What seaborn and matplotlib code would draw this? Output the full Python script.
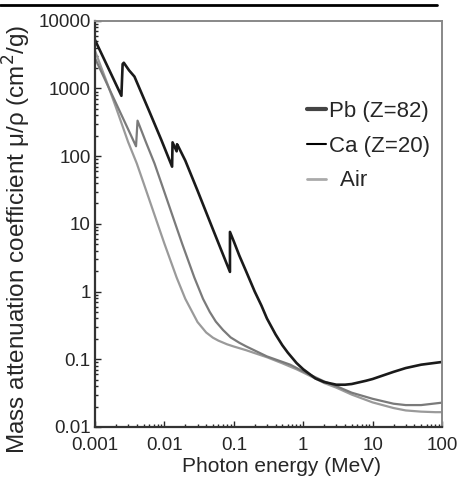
import numpy as np
import pandas as pd
import seaborn as sns
import matplotlib
matplotlib.use('Agg')
import matplotlib.pyplot as plt
from matplotlib.lines import Line2D
from matplotlib.ticker import LogLocator, FuncFormatter, NullFormatter

# values (MeV, cm2/g)
pb_energy = [0.001, 0.0017, 0.0024, 0.0025, 0.0026, 0.0031, 0.0037, 0.006, 0.009,
             0.0129, 0.0131, 0.0150, 0.0152, 0.0158, 0.02, 0.03, 0.05, 0.088, 0.088,
             0.1, 0.12, 0.15, 0.2, 0.25, 0.3, 0.4, 0.5, 0.6, 0.8, 1, 1.5, 2, 3, 4, 5,
             8, 10, 20, 30, 50, 100]
pb_mu = [5200, 1650, 780, 2300, 2400, 1850, 1500, 470, 175,
         70, 160, 118, 150, 140, 86, 31, 8.3, 1.95, 7.6,
         5.5, 3.4, 2.0, 1.0, 0.62, 0.40, 0.232, 0.161, 0.125, 0.088, 0.071, 0.052,
         0.046, 0.042, 0.042, 0.043, 0.048, 0.051, 0.065, 0.074, 0.083, 0.091]

ca_energy = [0.001, 0.002, 0.003, 0.0039, 0.0041, 0.0054, 0.0072, 0.009, 0.0108,
             0.0144, 0.018, 0.027, 0.036, 0.045, 0.055, 0.07, 0.09, 0.12, 0.15, 0.3,
             0.65, 1, 2, 3, 5, 10, 20, 30, 50, 100]
ca_mu = [2800, 610, 250, 140, 335, 162, 78, 40.3, 23.4,
         9.9, 5.1, 1.61, 0.78, 0.50, 0.36, 0.27, 0.21, 0.175, 0.155, 0.11,
         0.083, 0.066, 0.047, 0.040, 0.032, 0.026, 0.022, 0.021, 0.021, 0.0228]

air_energy = [0.001, 0.0015, 0.002, 0.003, 0.004, 0.005, 0.006, 0.008, 0.01, 0.015,
              0.02, 0.03, 0.04, 0.05, 0.06, 0.08, 0.1, 0.15, 0.2, 0.3, 0.5, 0.8, 1,
              1.5, 2, 3, 5, 10, 20, 30, 50, 80, 100]
air_mu = [3606, 1191, 528, 162, 78, 40.3, 23.4, 9.9, 5.1, 1.61,
          0.78, 0.354, 0.248, 0.208, 0.188, 0.166, 0.154, 0.136, 0.123, 0.107, 0.087,
          0.071, 0.0636, 0.0517, 0.0445, 0.038, 0.030, 0.023, 0.019, 0.0175, 0.0168,
          0.0165, 0.0165]

materials = ['Pb (Z=82)', 'Ca (Z=20)', 'Air']

frames = []
for name, e, m in zip(materials, [pb_energy, ca_energy, air_energy], [pb_mu, ca_mu, air_mu]):
    frames.append(pd.DataFrame({'energy': e, 'mu': m, 'material': name}))
df = pd.concat(frames, ignore_index=True)

sns.set_style('ticks')
plt.rcParams['font.family'] = ['Liberation Sans', 'DejaVu Sans']

fig = plt.figure(figsize=(4.59, 4.84), dpi=100)
ax = fig.add_axes([0.207, 0.118, 0.756, 0.839])
ax.set_xscale('log')
ax.set_yscale('log')

line_colors = {'Pb (Z=82)': '#1a1a1a', 'Ca (Z=20)': '#7a7a7a', 'Air': '#9a9a9a'}
line_widths = {'Pb (Z=82)': 1.9, 'Ca (Z=20)': 1.6, 'Air': 1.6}
for name in ['Air', 'Ca (Z=20)', 'Pb (Z=82)']:
    sns.lineplot(data=df[df['material'] == name], x='energy', y='mu', ax=ax,
                 color=line_colors[name], lw=line_widths[name],
                 sort=False, estimator=None, legend=False)

ax.set_xlim(0.001, 100)
ax.set_ylim(0.01, 10000)

fmt = FuncFormatter(lambda v, p: f'{v:g}')
for axis in [ax.xaxis, ax.yaxis]:
    axis.set_major_locator(LogLocator(base=10, numticks=12))
    axis.set_minor_locator(LogLocator(base=10, subs=np.arange(2, 10), numticks=12))
    axis.set_major_formatter(fmt)
    axis.set_minor_formatter(NullFormatter())

ax.tick_params(which='both', direction='in', top=False, right=False, labelsize=13.5, pad=3)
ax.tick_params(axis='x', which='both', pad=7.5)
ax.tick_params(which='major', length=4, width=1)
ax.tick_params(which='minor', length=2, width=1)

for side in ['left', 'bottom']:
    ax.spines[side].set_color('#333333')
    ax.spines[side].set_linewidth(1.6)
for side in ['top', 'right']:
    ax.spines[side].set_color('#888888')
    ax.spines[side].set_linewidth(1.4)

ax.set_xlabel('Photon energy (MeV)', fontsize=15)
ax.xaxis.set_label_coords(0.536, -0.074)
ax.set_ylabel('Mass attenuation coefficient μ/ρ (cm$^2$/g)', fontsize=17.5)
ax.yaxis.set_label_coords(-0.179, 0.462)

handles = [Line2D([], [], color='#444444', lw=3),
           Line2D([], [], color='black', lw=1.5),
           Line2D([], [], color='#aaaaaa', lw=2)]
ax.legend(handles, ['Pb (Z=82)', 'Ca (Z=20)', '  Air'], loc='upper left',
          bbox_to_anchor=(0.611, 0.803), frameon=False, fontsize=16,
          handlelength=0.87, handletextpad=0.13, labelspacing=0.62, borderpad=0,
          borderaxespad=0)

# black rule across the top of the picture
fig.add_artist(Line2D([0, 437 / 459], [1 - 5 / 484] * 2, transform=fig.transFigure,
                      color='black', lw=2))

fig.savefig('out.png', dpi=100)
